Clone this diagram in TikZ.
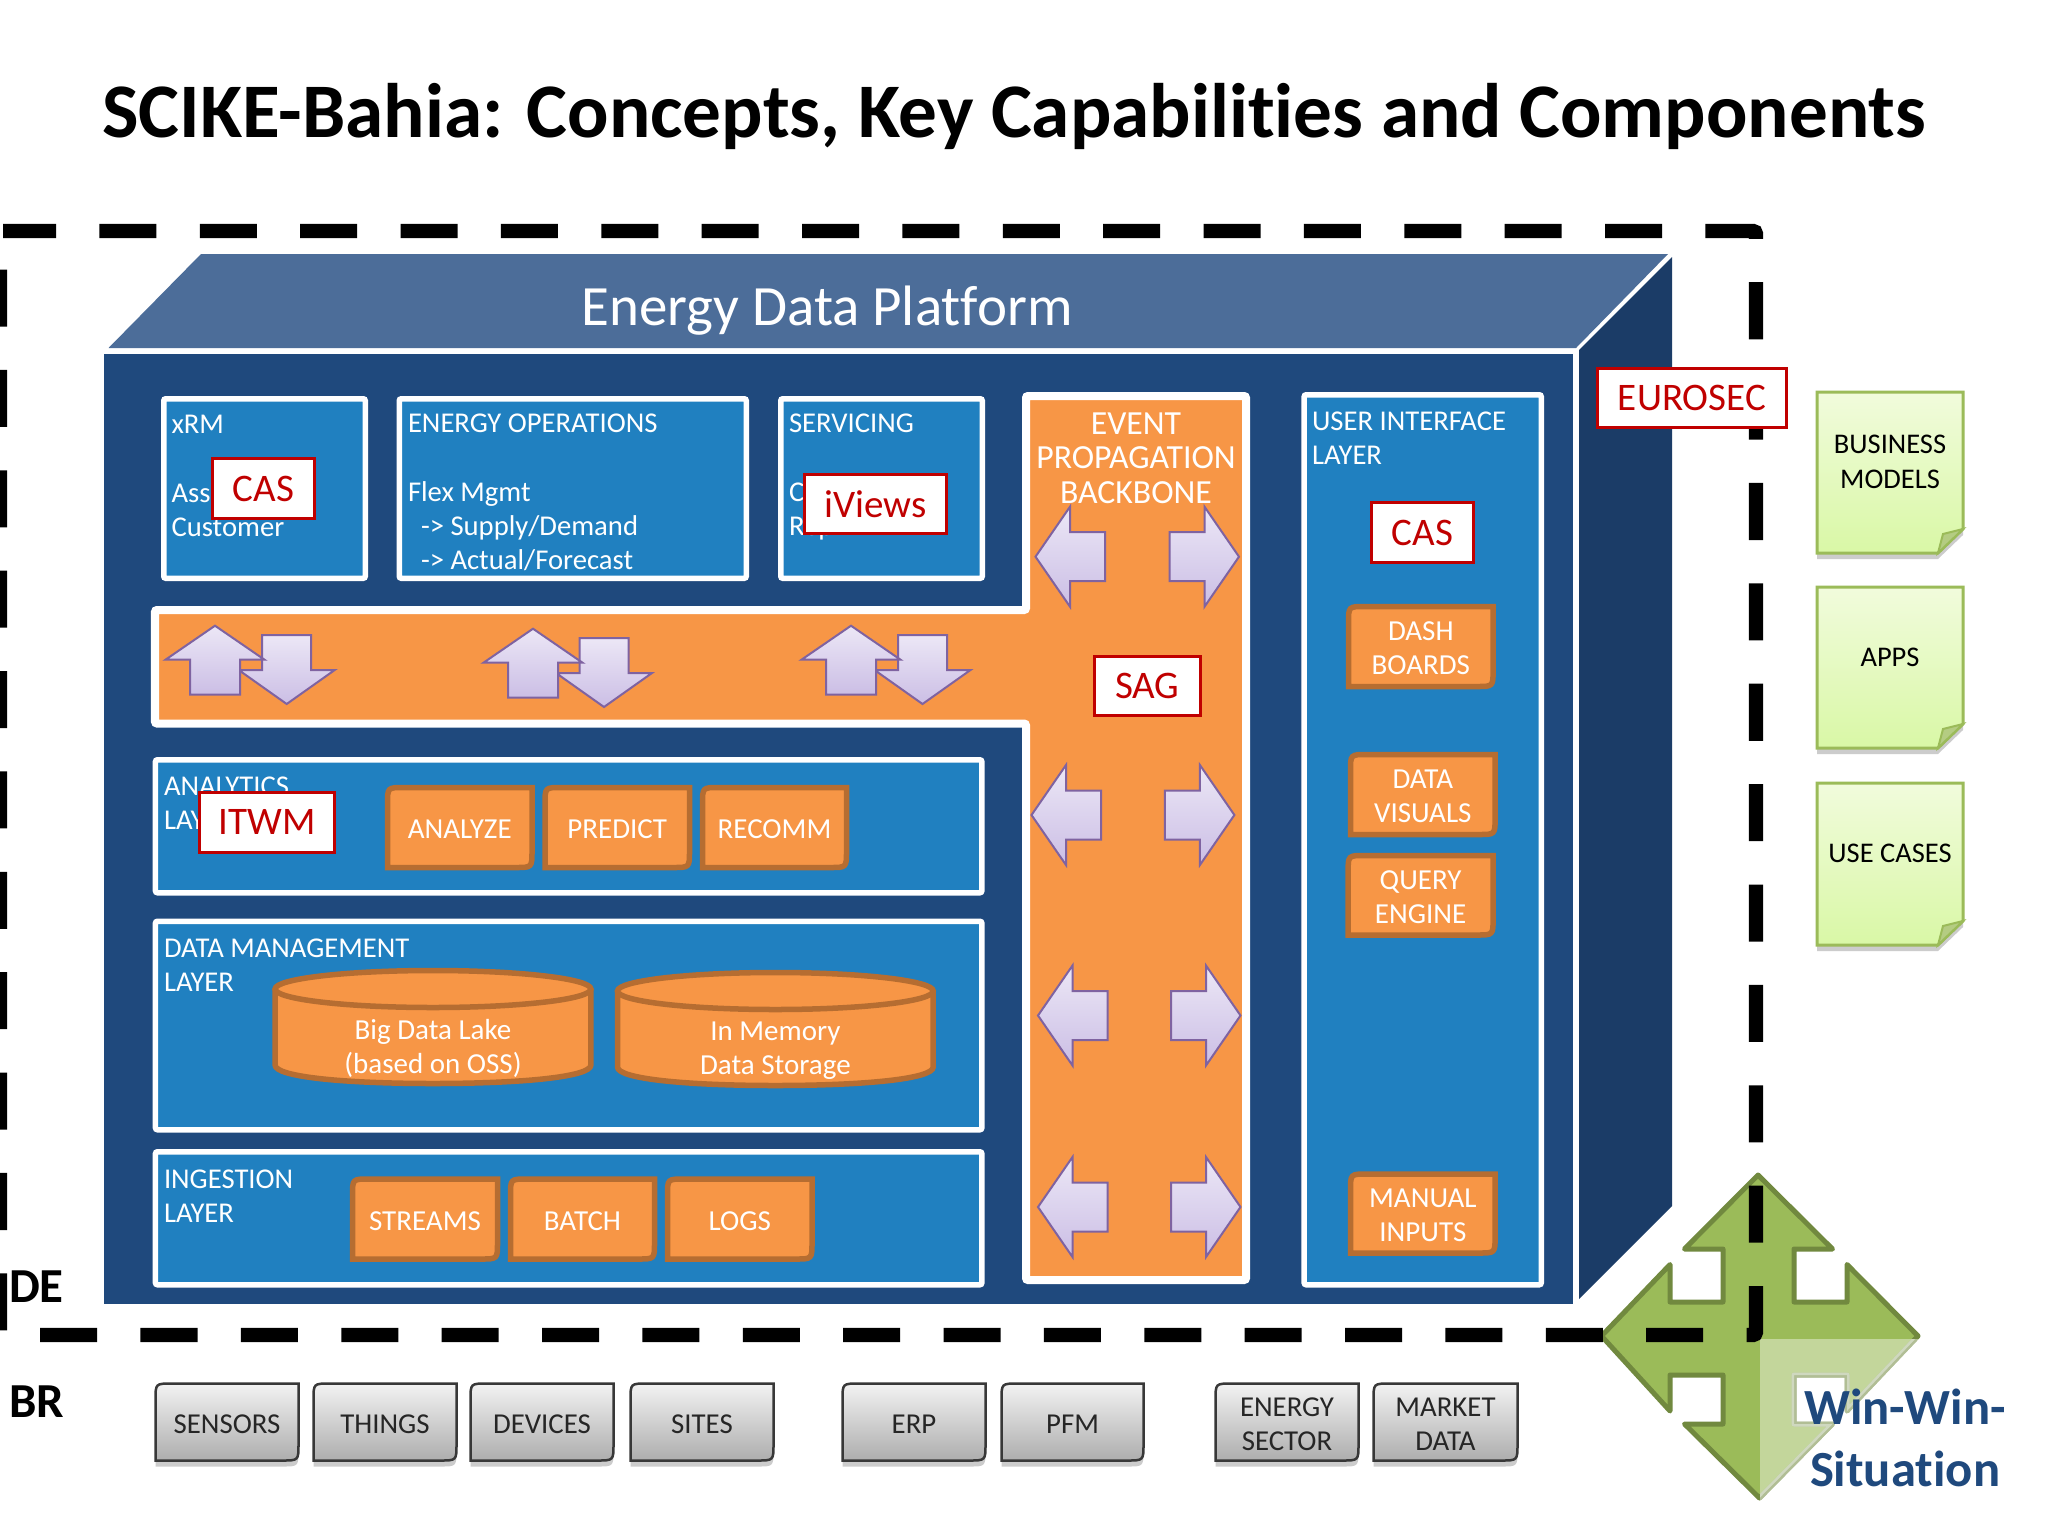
\documentclass[tikz,border=0pt]{standalone}
\usepackage{fontspec}
\setmainfont{Carlito}[Ligatures={TeX,NoCommon}]
\usetikzlibrary{shadows}

\definecolor{platfront}{HTML}{1F497D}
\definecolor{plattop}{HTML}{4C6D99}
\definecolor{platside}{HTML}{1B3C67}
\definecolor{layerblue}{HTML}{2080C0}
\definecolor{busorange}{HTML}{F79646}
\definecolor{cardedge}{HTML}{B66D31}
\definecolor{flowedge}{HTML}{7F63A1}
\definecolor{flowtop}{HTML}{ECE7F6}
\definecolor{flowbottom}{HTML}{CBBEE5}
\definecolor{partner}{HTML}{C00000}
\definecolor{olive}{HTML}{9BBB59}
\definecolor{oliveedge}{HTML}{71893F}
\definecolor{notetop}{HTML}{F1FBDC}
\definecolor{notebottom}{HTML}{D9F8A6}

\tikzset{
  every node/.style={inner sep=0pt,outer sep=0pt},
  lbl/.style={text=white,align=left,anchor=north west,yshift=-.06cm,font=\fontsize{8.15}{9.76}\selectfont,execute at begin node=\strut},
  layer/.style={fill=layerblue,draw=white,line width=.055cm,rounded corners=.02cm},
  partnerbox/.style={fill=white,draw=partner,line width=.028cm,text=partner,font=\fontsize{11.1}{13}\selectfont},
  slabtext/.style={text=white,align=center,font=\fontsize{8.25}{9.76}\selectfont},
  slab/.style={fill=busorange,draw=cardedge,line width=.055cm},
  grey/.style={top color=black!5,bottom color=black!32,draw=black!78,line width=.025cm,
    drop shadow={opacity=.4,shadow xshift=0cm,shadow yshift=-.06cm}},
  greytext/.style={text=black!85,align=center,font=\fontsize{8.2}{9.76}\selectfont},
  note/.style={top color=notetop,bottom color=notebottom,draw=olive,line width=.03cm,
    drop shadow={opacity=.4,shadow xshift=0cm,shadow yshift=-.06cm}},
  flow/.style={top color=flowtop,bottom color=flowbottom,draw=flowedge,line width=.02cm},
  frontier/.style={draw=black,line width=.143cm,dash pattern=on .57cm off .4332cm,dash phase=.04cm,rounded corners=.03cm},
}

% panel: style, name, x1, y1, x2, y2 (outer edge)
\newcommand{\panel}[6]{\node[#1,minimum width={(#5-#3-5.5)*0.01cm},minimum height={(#6-#4-5.5)*0.01cm}] (#2) at ({(#3+#5)/2},{(#4+#6)/2}) {};}
\newcommand{\tagbox}[6]{\node[partnerbox,minimum width={(#4-#2-2.8)*0.01cm},minimum height={(#5-#3-2.8)*0.01cm}] (#1) at ({(#2+#4)/2},{(#3+#5)/2}) {#6};}
% slab: style, name, x1, y1, x2, y2, text, text style
\newcommand{\slabbox}[8]{
\draw[#1] ({#3+2.5},{#6-2.5}) -- ({#3+2.5},{#4+19}) .. controls ({#3+2.5},{#4+2.5}) .. ({#3+19},{#4+2.5})
  -- ({#5-2.5},{#4+2.5}) -- ({#5-2.5},{#6-19}) .. controls ({#5-2.5},{#6-2.5}) .. ({#5-19},{#6-2.5}) -- cycle;
\node[#8] (#2) at ({(#3+#5)/2},{(#4+#6)/2+2}) {#7};}
% drum: name, x1, y1, x2, y2, text
\newcommand{\drum}[6]{
\draw[slab] ({#2+2.5},{#3+21}) -- ({#2+2.5},{#5-21}) .. controls ({#2+2.5},{#5-9}) and ({(#2+#4)/2-88},{#5-2.5}) .. ({(#2+#4)/2},{#5-2.5})
  .. controls ({(#2+#4)/2+88},{#5-2.5}) and ({#4-2.5},{#5-9}) .. ({#4-2.5},{#5-21}) -- ({#4-2.5},{#3+21});
\draw[slab] ({(#2+#4)/2},{#3+21}) ellipse ({(#4-#2-5)/2} and 18.5);
\node[slabtext] (#1) at ({(#2+#4)/2},{(#3+#5)/2+21.5}) {#6};}
% note: name, x1, y1, x2, y2, text
\newcommand{\notecard}[6]{
\draw[note] (#2,#3) -- (#4,#3) -- (#4,{#5-24}) -- ({#4-25},#5) -- (#2,#5) -- cycle;
\draw[fill=olive!75!white,draw=olive,line width=.02cm] (#4,{#5-24}) -- ({#4-20},{#5-19}) -- ({#4-25},#5) -- cycle;
\node[text=black,align=center,font=\fontsize{8.1}{9.76}\selectfont] (#1) at ({(#2+#4)/2},{(#3+#5)/2-10.5}) {#6};}
% flow arrows, by the tip
\newcommand{\flowup}[2]{\draw[flow] (#1,#2) -- ++(49.5,34) -- ++(-24.5,0) -- ++(0,35) -- ++(-50,0) -- ++(0,-35) -- ++(-24.5,0) -- cycle;}
\newcommand{\flowdown}[2]{\draw[flow] (#1,#2) -- ++(48,-34) -- ++(-23.5,0) -- ++(0,-35) -- ++(-49,0) -- ++(0,35) -- ++(-23.5,0) -- cycle;}
\newcommand{\flowleft}[2]{\draw[flow] (#1,#2) -- ++(34.5,-50) -- ++(0,25.5) -- ++(35,0) -- ++(0,49) -- ++(-35,0) -- ++(0,25.5) -- cycle;}
\newcommand{\flowright}[2]{\draw[flow] (#1,#2) -- ++(-34.5,-50) -- ++(0,25.5) -- ++(-35,0) -- ++(0,49) -- ++(35,0) -- ++(0,25.5) -- cycle;}
\newcommand{\quadpath}{(1758,1175) -- (1832.5,1249) -- (1794,1249) -- (1794,1302) -- (1847,1302) -- (1847,1264.5) -- (1918,1336) -- (1847,1411) -- (1847,1375) -- (1794,1375) -- (1794,1424) -- (1832.5,1424) -- (1759.5,1498) -- (1684.5,1424) -- (1723,1424) -- (1723,1375) -- (1670,1375) -- (1670,1411) -- (1601.5,1336) -- (1670,1264.5) -- (1670,1302) -- (1723,1302) -- (1723,1249) -- (1684.5,1249) -- cycle}

\begin{document}
\begin{tikzpicture}[x=0.01cm,y=-0.01cm]
\useasboundingbox (0,0) rectangle (2048,1536);
\fill[white] (0,0) rectangle (2048,1536);

\node[font=\fontsize{21.96}{26}\selectfont\bfseries] (title) at (1014,116) {SCIKE-Bahia: Concepts, Key Capabilities and Components};

% platform
\fill[plattop] (108.5,348) -- (201,254) -- (1668,254) -- (1576,348) -- cycle;
\fill[platside] (1579,350) -- (1672,257) -- (1672,1206) -- (1579,1299) -- cycle;
\fill[platfront] (104,354) rectangle (1573,1303.5);
\node[text=white,font=\fontsize{16.2}{20}\selectfont] (platform) at (827,311) {Energy Data Platform};

% top row
\panel{layer}{xrm}{161}{396}{368}{581}
\node[lbl] (xrmtext) at (171.5,409) {xRM\\~\\Ass\\Customer};
\panel{layer}{energyops}{396.5}{396}{749}{581}
\node[lbl] (energyopstext) at (408,408) {ENERGY OPERATIONS\\~\\Flex Mgmt\\\hspace*{.13cm}-> Supply/Demand\\\hspace*{.13cm}-> Actual/Forecast};
\panel{layer}{servicing}{778}{396}{985}{581}
\node[lbl] (servicingtext) at (789,408) {SERVICING\\~\\C\\Rep};

% backbone
\draw[fill=busorange,draw=white,line width=.08cm,rounded corners=.02cm] (155,610) -- (1026,610) -- (1026,396) -- (1246,396) -- (1246,1280) -- (1026,1280) -- (1026,723.5) -- (155,723.5) -- cycle;
\node[text=white,align=center,font=\fontsize{9.6}{9.76}\selectfont] (backbone) at (1136,458) {EVENT\\PROPAGATION\\BACKBONE};

\flowdown{286.7}{704}
\flowup{215}{625.7}
\flowdown{604}{707}
\flowup{533}{628.7}
\flowdown{922.5}{704}
\flowup{851}{625.7}

\flowleft{1035.5}{556.7}
\flowright{1239}{556.7}
\flowleft{1031.5}{815}
\flowright{1234.4}{815}
\flowleft{1038}{1015.5}
\flowright{1240.5}{1015.5}
\flowleft{1038}{1207}
\flowright{1240.5}{1207}

% analytics
\panel{layer}{analytics}{152.7}{757}{984.6}{895.5}
\node[lbl] (analyticstext) at (164,771) {ANALYTICS\\LAY};
\slabbox{slab}{analyze}{385}{785}{534.5}{870}{ANALYZE}{slabtext}
\slabbox{slab}{predict}{542.5}{785}{692}{870}{PREDICT}{slabtext}
\slabbox{slab}{recomm}{700}{785}{849}{870}{RECOMM}{slabtext}

% data management
\panel{layer}{datamgmt}{152.7}{918.5}{984.6}{1132.5}
\node[lbl] (datamgmttext) at (164,933) {DATA MANAGEMENT\\LAYER};
\drum{lake}{272.6}{968}{593.4}{1086}{Big Data Lake\\(based on OSS)}
\drum{memory}{615}{970}{935.7}{1088}{In Memory\\Data Storage}

% ingestion
\panel{layer}{ingestion}{152.7}{1149}{984.6}{1287.5}
\node[lbl] (ingestiontext) at (164,1164) {INGESTION\\LAYER};
\slabbox{slab}{streams}{350}{1176.5}{500}{1261.5}{STREAMS}{slabtext}
\slabbox{slab}{batch}{508}{1176.5}{657}{1261.5}{BATCH}{slabtext}
\slabbox{slab}{logs}{665}{1176.5}{814.5}{1261.5}{LOGS}{slabtext}

% user interface
\panel{layer}{uilayer}{1301.4}{392}{1544}{1287.5}
\node[lbl] (uitext) at (1312,406) {USER INTERFACE\\LAYER};
\slabbox{slab}{dash}{1346}{604}{1495.6}{689}{DASH\\BOARDS}{slabtext}
\slabbox{slab}{visuals}{1348}{752}{1497.6}{837}{DATA\\VISUALS}{slabtext}
\slabbox{slab}{query}{1345.6}{853}{1495.6}{937.5}{QUERY\\ENGINE}{slabtext}
\slabbox{slab}{manual}{1348}{1171.5}{1497.6}{1255.5}{MANUAL\\INPUTS}{slabtext}

% win-win arrow and country frame
\draw[fill=olive,draw=oliveedge,line width=.05cm,line join=round] \quadpath;
\draw[frontier] (0,231) -- (1756,231) -- (1756,1335) -- (0,1335) -- cycle;
\begin{scope}
\clip (1760,1339) rectangle (1935,1515);
\draw[fill=white,draw=white,fill opacity=.4,draw opacity=.45,line width=.05cm,line join=round] \quadpath;
\end{scope}

% partners
\tagbox{cas}{211}{457}{316}{520}{CAS}
\tagbox{iviews}{803}{472.7}{948}{535}{iViews}
\tagbox{eurosec}{1596}{366.7}{1788}{429}{EUROSEC}
\tagbox{casui}{1370}{501}{1475}{564}{CAS}
\tagbox{sag}{1093}{654.7}{1201.6}{717}{SAG}
\tagbox{itwm}{198}{791}{336}{853.8}{ITWM}

% side notes
\notecard{models}{1817}{392}{1963}{553}{BUSINESS\\MODELS}
\notecard{apps}{1817}{587}{1963}{748}{APPS}
\notecard{usecases}{1817}{783}{1963}{945}{USE CASES}

% sources
\node[font=\fontsize{13.9}{16}\selectfont\bfseries] (de) at (36.5,1287) {DE};
\node[font=\fontsize{13.9}{16}\selectfont\bfseries] (br) at (36.5,1402) {BR};
\slabbox{grey}{sensors}{153}{1381}{301}{1463}{SENSORS}{greytext}
\slabbox{grey}{things}{311}{1381}{459}{1463}{THINGS}{greytext}
\slabbox{grey}{devices}{468}{1381}{616}{1463}{DEVICES}{greytext}
\slabbox{grey}{sites}{628}{1381}{776}{1463}{SITES}{greytext}
\slabbox{grey}{erp}{840}{1381}{988}{1463}{ERP}{greytext}
\slabbox{grey}{pfm}{999}{1381}{1146}{1463}{PFM}{greytext}
\slabbox{grey}{energy}{1213}{1381}{1361}{1463}{ENERGY\\SECTOR}{greytext}
\slabbox{grey}{market}{1371}{1381}{1520}{1463}{MARKET\\DATA}{greytext}

\node[text=platfront,align=center,font=\fontsize{14.4}{17.6}\selectfont\bfseries] (winwin) at (1905,1438) {Win-Win-\\Situation};
\end{tikzpicture}
\end{document}
